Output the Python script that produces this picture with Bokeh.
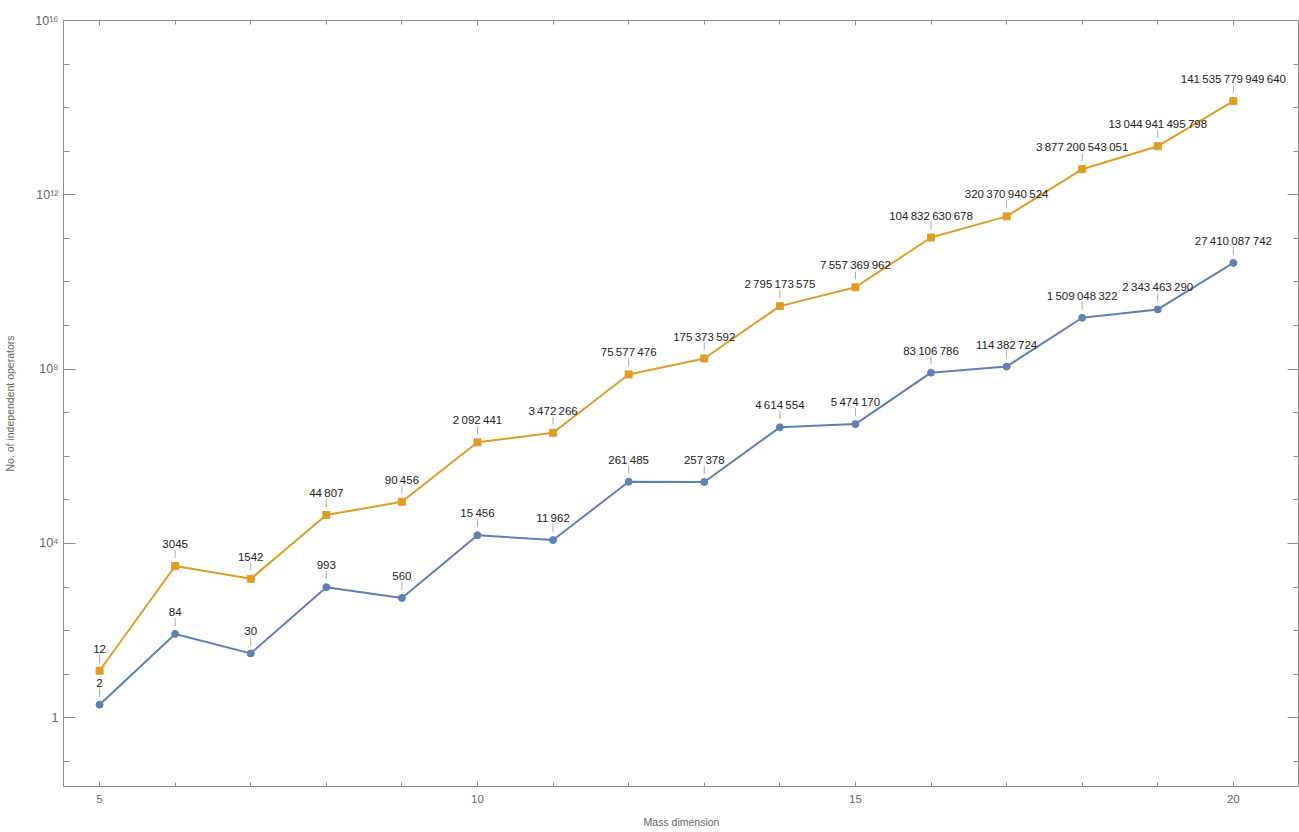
from bokeh.plotting import figure
from bokeh.models import ColumnDataSource, FixedTicker, CustomJSTickFormatter, LinearAxis, LogAxis
from bokeh.core.properties import value
from bokeh.embed import file_html
from bokeh.resources import INLINE

# ---- data ----
mass_dim = [5, 6, 7, 8, 9, 10, 11, 12, 13, 14, 15, 16, 17, 18, 19, 20]
series_blue = [2, 84, 30, 993, 560, 15456, 11962, 261485, 257378, 4614554, 5474170,
               83106786, 114382724, 1509048322, 2343463290, 27410087742]
series_orange = [12, 3045, 1542, 44807, 90456, 2092441, 3472266, 75577476, 175373592,
                 2795173575, 7557369962, 104832630678, 320370940524, 3877200543051,
                 13044941495798, 141535779949640]
x_ticks = [5, 10, 15, 20]
y_tick_exponents = [0, 4, 8, 12, 16]

BLUE = "#5E81B5"
ORANGE = "#E19C24"
FONT = "Liberation Sans"
PX_PER_DECADE = 43.75


def fmt(n):
    s = str(n)
    if len(s) <= 4:
        return s
    parts = []
    while len(s) > 3:
        parts.insert(0, s[-3:])
        s = s[:-3]
    parts.insert(0, s)
    return "\u2009".join(parts)


p = figure(width=1299, height=830, x_range=(4.523, 20.875), y_range=(10 ** -1.577, 1e16),
           y_axis_type="log", output_backend="svg", toolbar_location=None,
           min_border_left=63, min_border_top=20, min_border_right=0, min_border_bottom=41)
p.xgrid.visible = False
p.ygrid.visible = False
p.outline_line_color = "#8c8c8c"
p.background_fill_color = "white"

xt = FixedTicker(ticks=x_ticks, minor_ticks=list(range(5, 21)))
yt = FixedTicker(ticks=[10.0 ** e for e in y_tick_exponents],
                 minor_ticks=[10.0 ** e for e in range(-1, 17)])
yfmt = CustomJSTickFormatter(code="""
const sup = {'0':'\u2070','1':'\u00b9','2':'\u00b2','3':'\u00b3','4':'\u2074','5':'\u2075','6':'\u2076','7':'\u2077','8':'\u2078','9':'\u2079','-':'\u207b'};
const e = Math.round(Math.log10(tick));
if (e === 0) return '1';
return '10' + String(e).split('').map(c => sup[c]).join('');
""")

AX = "#8c8c8c"
LBL = "#666666"


def style_axis(ax, major_in, minor_in, labels=True):
    ax.axis_line_color = AX
    ax.major_tick_line_color = AX
    ax.minor_tick_line_color = AX
    ax.major_tick_in = major_in
    ax.major_tick_out = 0
    ax.minor_tick_in = minor_in
    ax.minor_tick_out = 0
    ax.major_label_text_font = FONT
    ax.major_label_text_color = LBL
    ax.axis_label_text_font = FONT
    ax.axis_label_text_color = LBL
    ax.axis_label_text_font_style = "normal"
    if not labels:
        ax.major_label_text_font_size = "1px"
        ax.major_label_text_alpha = 0
        ax.major_label_standoff = 0


xa = p.xaxis[0]
xa.ticker = xt
style_axis(xa, 5, 4)
xa.major_label_text_font_size = "11.5px"
xa.major_label_standoff = 8
xa.axis_label = "Mass dimension"
xa.axis_label_text_font_size = "10.5px"
xa.axis_label_standoff = 10

ya = p.yaxis[0]
ya.ticker = yt
ya.formatter = yfmt
style_axis(ya, 12, 6)
ya.major_label_text_font_size = "12.5px"
ya.major_label_standoff = 5
ya.axis_label = "No. of independent operators"
ya.axis_label_text_font_size = "10.5px"
ya.axis_label_standoff = 16

top = LinearAxis(ticker=FixedTicker(ticks=x_ticks, minor_ticks=list(range(5, 21))))
style_axis(top, 5, 4, labels=False)
p.add_layout(top, "above")

right = LogAxis(ticker=FixedTicker(ticks=[10.0 ** e for e in y_tick_exponents],
                                   minor_ticks=[10.0 ** e for e in range(-1, 17)]))
style_axis(right, 12, 6, labels=False)
p.add_layout(right, "right")

lo = 10 ** (8 / PX_PER_DECADE)
hi = 10 ** (16 / PX_PER_DECADE)

for ys, color, marker, msize in [(series_blue, BLUE, "circle", 7), (series_orange, ORANGE, "square", 7)]:
    src = ColumnDataSource(dict(
        x=mass_dim, y=ys,
        y0=[v * lo for v in ys], y1=[v * hi for v in ys],
        label=[fmt(v) for v in ys]))
    p.segment(x0="x", y0="y0", x1="x", y1="y1", source=src, line_color="#aaaaaa", line_width=1)
    p.line("x", "y", source=src, line_color=color, line_width=2)
    p.scatter("x", "y", source=src, marker=marker, size=msize, fill_color=color, line_color=color)
    p.text("x", "y", text="label", source=src, text_font=value(FONT), text_font_size="11.5px",
           text_color="#222222", text_align="center", text_baseline="alphabetic", y_offset=-22)

open("out.html", "w").write(file_html(p, INLINE))
